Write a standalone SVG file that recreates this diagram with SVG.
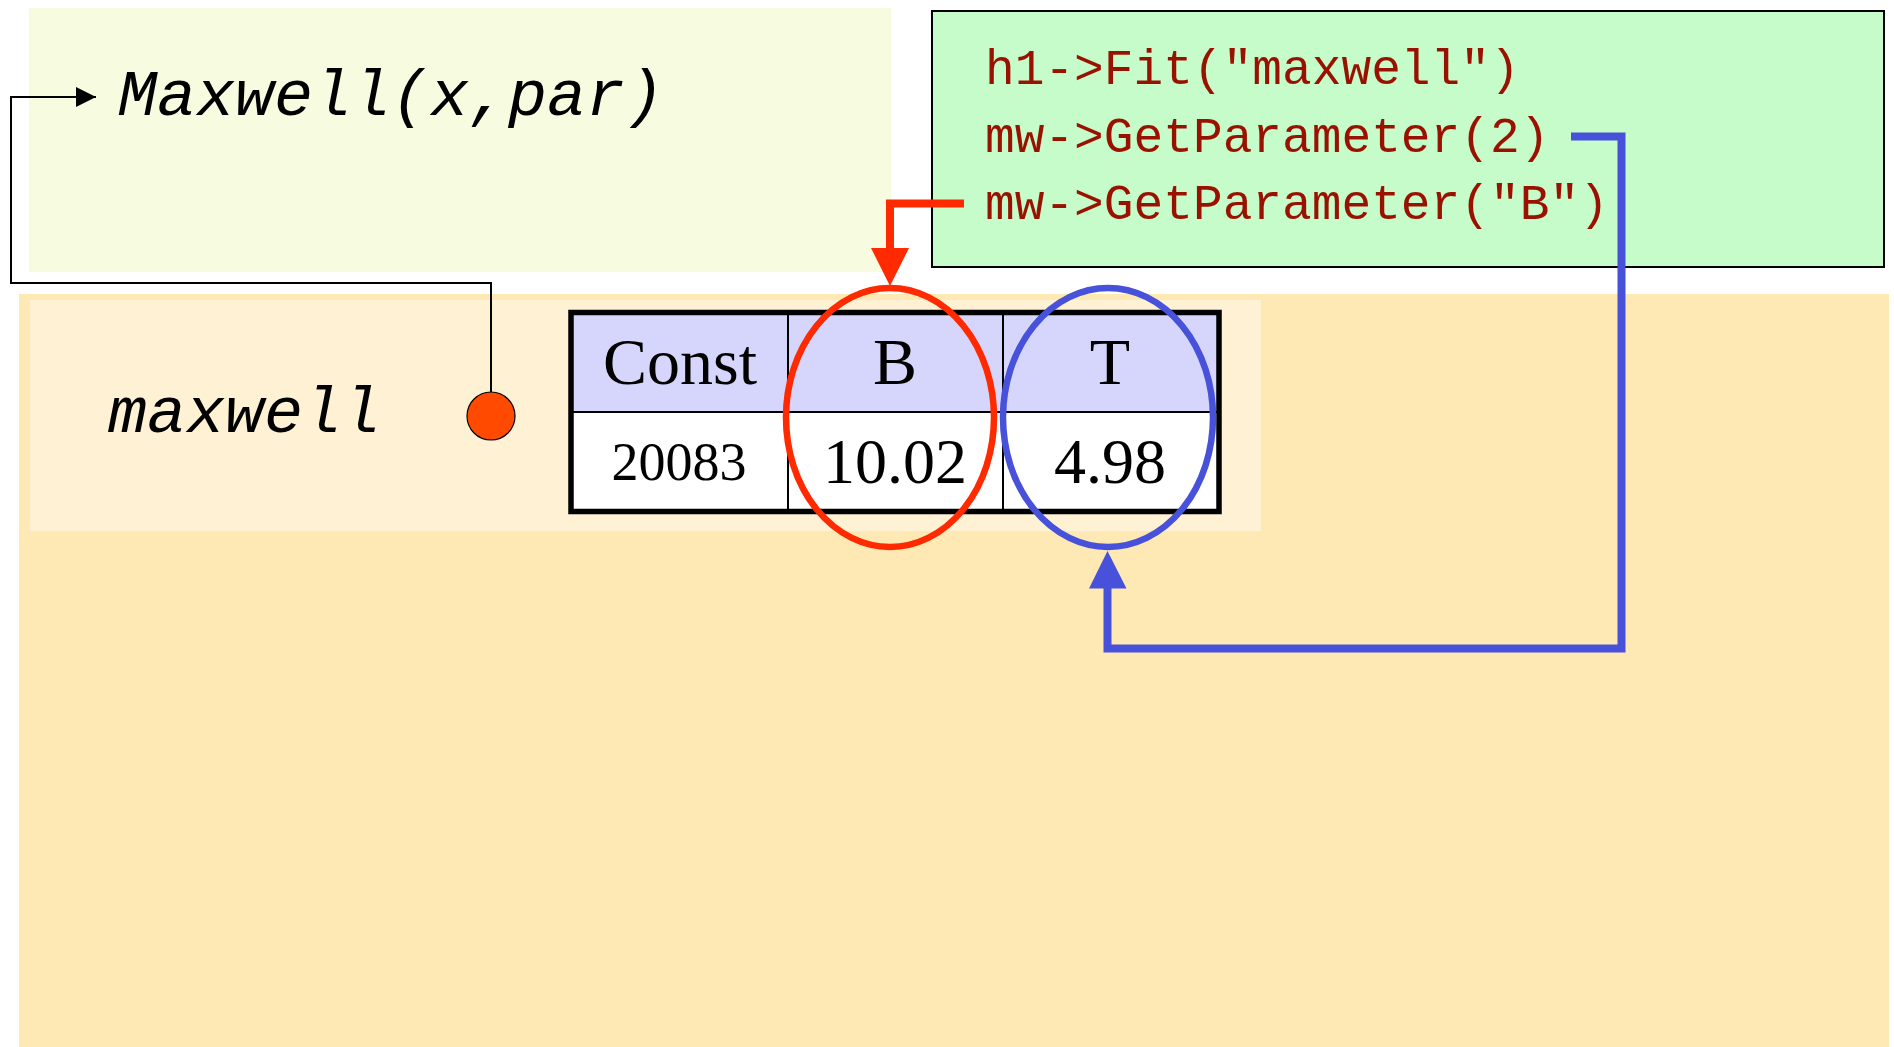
<svg xmlns="http://www.w3.org/2000/svg" width="1894" height="1047" viewBox="0 0 1894 1047">
  <style>
    .mono { font-family: "Liberation Mono", "Courier New", monospace; }
    .serif { font-family: "Liberation Serif", "Times New Roman", serif; fill: #000; text-anchor: middle; }
    .code { font-size: 49.5px; fill: #991100; }
    .fn { font-size: 65px; font-style: italic; fill: #000; }
    .cell-line { stroke: #000; stroke-width: 2; }
  </style>
  <defs>
    <marker id="arrow-black" markerWidth="20" markerHeight="20" refX="20" refY="10" orient="auto" markerUnits="userSpaceOnUse">
      <path d="M0,0 L20,10 L0,20 Z" fill="#000"/>
    </marker>
  </defs>

  <rect width="1894" height="1047" fill="#ffffff"/>

  <!-- background panels -->
  <g id="panel-object">
    <rect x="19" y="294" width="1870" height="753" fill="#FEE9B5"/>
    <rect x="30" y="300" width="1231" height="231" fill="#FEF1D4"/>
  </g>
  <g id="panel-function">
    <rect x="29" y="8" width="862" height="264" fill="#F7FCE1"/>
    <text class="mono fn" x="118" y="115">Maxwell(x,par)</text>
  </g>

  <!-- code panel -->
  <g id="panel-code">
    <rect x="932" y="11" width="952" height="256" fill="#C6FCCA" stroke="#000" stroke-width="2"/>
    <text class="mono code" x="985" y="84">h1-&gt;Fit("maxwell")</text>
    <text class="mono code" x="985" y="152">mw-&gt;GetParameter(2)</text>
    <text class="mono code" x="985" y="219">mw-&gt;GetParameter("B")</text>
  </g>

  <!-- function object label and handle -->
  <g id="node-maxwell">
    <text class="mono fn" x="108" y="432">maxwell</text>
    <circle cx="491" cy="416" r="24" fill="#FF4A00" stroke="#000" stroke-width="1.2"/>
  </g>

  <!-- parameter table -->
  <g id="node-table">
    <rect x="571" y="312.5" width="648" height="100" fill="#D6D6FC"/>
    <rect x="571" y="412" width="648" height="99" fill="#ffffff"/>
    <line class="cell-line" x1="571" y1="412" x2="1219" y2="412"/>
    <line class="cell-line" x1="788" y1="312" x2="788" y2="511"/>
    <line class="cell-line" x1="1003" y1="312" x2="1003" y2="511"/>
    <rect x="571" y="312.5" width="648" height="199" fill="none" stroke="#000" stroke-width="5.5"/>
    <text class="serif" x="680" y="384" font-size="66">Const</text>
    <text class="serif" x="895" y="384" font-size="66">B</text>
    <text class="serif" x="1110" y="384" font-size="66">T</text>
    <text class="serif" x="679" y="480" font-size="54">20083</text>
    <text class="serif" x="895" y="483" font-size="64">10.02</text>
    <text class="serif" x="1110" y="483" font-size="64">4.98</text>
  </g>

  <!-- highlight rings -->
  <g id="node-highlight-b">
    <ellipse cx="890" cy="417.5" rx="104" ry="129.5" fill="none" stroke="#FF2A00" stroke-width="6.5"/>
  </g>
  <g id="node-highlight-t">
    <ellipse cx="1108" cy="417.5" rx="105" ry="129.5" fill="none" stroke="#4751D9" stroke-width="6.5"/>
  </g>

  <!-- connectors -->
  <g id="connectors" fill="none">
    <path d="M491,392 V283 H11 V97 H96" stroke="#000" stroke-width="2" marker-end="url(#arrow-black)"/>
    <path d="M964,203.5 H890 V250" stroke="#FF2A00" stroke-width="8"/>
    <polygon points="871,248 909,248 890,286" fill="#FF2A00"/>
    <path d="M1571,136.5 H1621.5 V648.5 H1107.5 V586" stroke="#4751D9" stroke-width="8"/>
    <polygon points="1089,588.5 1126.5,588.5 1107.5,551" fill="#4751D9"/>
  </g>
</svg>
